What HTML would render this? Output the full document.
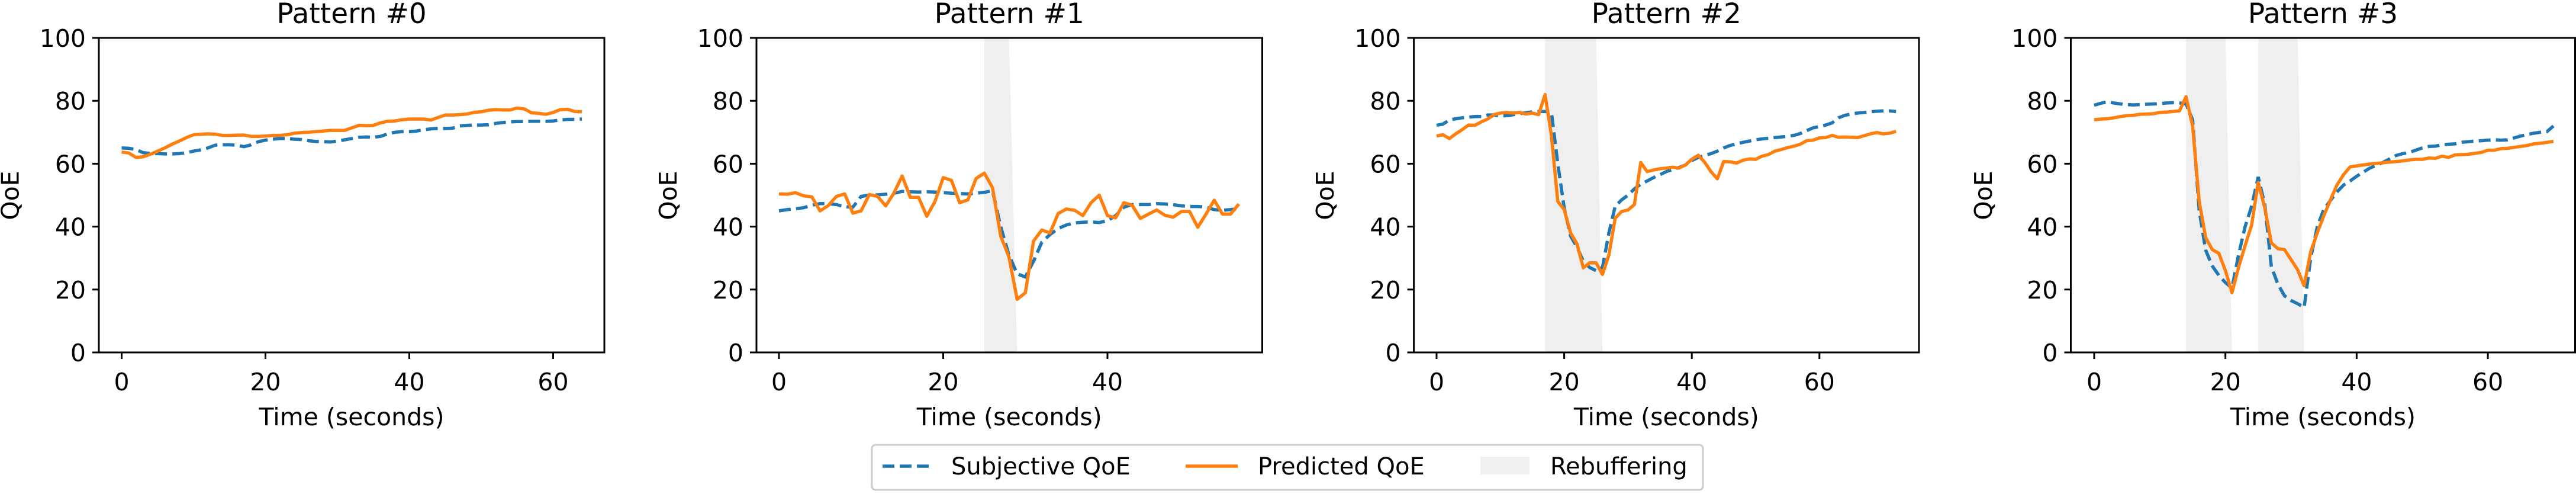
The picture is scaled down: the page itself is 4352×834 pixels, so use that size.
<!DOCTYPE html>
<html><head><meta charset="utf-8">
<style>
html,body{margin:0;padding:0;background:#fff;}
svg{display:block;font-family:"DejaVu Sans","Liberation Sans",sans-serif;}
</style></head>
<body>
<svg id="fig" width="4352" height="834" viewBox="0 0 4352 834" xmlns="http://www.w3.org/2000/svg">
<g>
  <rect x="1473" y="751" width="1404" height="76" rx="6" fill="#fff" stroke="#cccccc" stroke-width="3"/>
  <g>
    <line x1="1491" y1="787" x2="1575" y2="787" stroke="#1f77b4" stroke-width="5.5" stroke-dasharray="20,9"/>
    <text x="1607" y="801" font-size="40">Subjective QoE</text>
  </g>
  <g>
    <line x1="2003" y1="787" x2="2091" y2="787" stroke="#ff7f0e" stroke-width="5.5"/>
    <text x="2125" y="801" font-size="40">Predicted QoE</text>
  </g>
  <g>
    <rect x="2501" y="771" width="83" height="30" fill="#efefef"/>
    <text x="2619" y="801" font-size="40">Rebuffering</text>
  </g>
</g>
</svg>
<script>
const titles = ["Pattern #0","Pattern #1","Pattern #2","Pattern #3"];
const yTicks = [0,20,40,60,80,100];
const xTicks0 = [0,20,40,60];
const xTicks1 = [0,20,40];
const xTicks2 = [0,20,40,60];
const xTicks3 = [0,20,40,60];
const subj0 = [65,64.9,64.5,63.5,63.3,63.2,63.1,63.1,63.2,63.5,64,64.4,65,65.9,66,66,65.9,65.4,66,67,67.5,67.8,68,68,67.8,67.7,67.3,67.1,67,66.9,67.2,67.6,68,68.4,68.5,68.4,68.7,69.5,70,70.2,70.2,70.4,70.8,71.1,71.2,71.2,71.3,72,72.2,72.3,72.3,72.4,72.8,73.1,73.3,73.4,73.4,73.5,73.5,73.5,73.6,73.9,74.1,74.1,74.2];
const pred0 = [63.7,63.4,62,62.2,63,64,65,66.2,67.2,68.3,69.2,69.4,69.5,69.4,69,69,69.1,69.1,68.7,68.7,68.8,69,69,69.2,69.7,69.9,70,70.2,70.4,70.6,70.6,70.6,71.4,72.2,72.1,72.2,73,73.5,73.6,74,74.2,74.2,74.2,73.9,74.7,75.5,75.5,75.6,75.8,76.3,76.5,77,77.2,77.1,77.1,77.7,77.4,76.2,76,75.7,76.3,77.2,77.3,76.6,76.5];
const subj1 = [45,45.4,45.7,46,46.8,47.3,47.3,47,46.3,46.2,49.6,50,50.1,50.3,50.6,51.2,51.1,51,51.1,51,50.8,50.6,50.5,50.4,50.6,50.9,51.4,40,31,25,24,29,35,37.5,39.4,40.5,41.2,41.4,41.5,41.3,41.9,43.5,46.2,47,47,47,47.3,47.2,47,46.6,46.4,46.4,46.2,45.4,45.2,45.4,45.8];
const pred1 = [50.4,50.3,50.8,49.8,49.5,45,46.7,49.6,50.4,44.3,45,50.2,49.6,46.6,50.7,56.1,49.3,49.3,43.3,48,55.6,54.7,47.6,48.5,55.3,57,52.4,37,30.4,16.9,19,35.4,38.9,38,44.2,45.6,45.2,43.5,47.6,50,43.5,42.8,47.6,46.8,42.6,44,45.3,43.6,43,44.8,44.8,39.8,44,48.4,44,44,47.2];
const subj2 = [72.2,72.6,73.9,74.3,74.6,74.8,75,75,75.5,75.5,75.2,75.3,75.6,75.9,76.2,76.5,76.6,76.6,76.4,60,46,37,33.5,29,27,26,27,38,46.5,48.5,50,52,53.5,54.5,55.6,56.5,57.5,58.2,58.8,59.6,61,62,62.6,63.2,64,65,65.8,66.3,66.8,67.2,67.6,67.9,68.1,68.3,68.5,68.7,69,69.6,70.5,71.4,71.8,72.3,73,74.6,75.4,75.8,76.1,76.3,76.5,76.7,76.8,76.8,76.6];
const pred2 = [68.8,69.2,68,69.5,70.8,72.3,72.2,73.3,74.2,75.6,76.1,76.3,76.1,76.3,75.8,76.1,75.6,82,69,48,45.4,38,34.5,26.9,28.5,28.5,24.8,31,42.7,44.8,45.3,47,60.4,57.5,58,58.4,58.6,58.9,58.6,59.6,61.4,62.7,60.5,57.5,55.2,60.7,60.6,60.2,61.1,61.5,61.4,62.4,62.9,64,64.5,65.1,65.6,66.2,67.3,67.5,68.2,68.3,69,68.4,68.5,68.4,68.3,68.9,69.5,69.9,69.5,69.7,70.3];
const subj3 = [78.6,79.2,79.7,79.3,79,78.8,78.7,78.8,78.9,79,79.1,79.3,79.4,79.3,79,74,45,32.5,27.5,24.5,22.2,20.5,31,40,46.5,55.8,47,27.3,21.7,18,16.5,15.5,14.3,30,40,45.5,48.3,51,53.2,54.5,56,57.3,58.6,59.5,60.4,61.5,62.6,63.2,63.6,64.3,65,65.5,65.6,66,66.2,66.3,66.8,67,67.2,67.3,67.5,67.6,67.5,67.6,68.2,68.8,69.3,69.7,70,70.2,72];
const pred3 = [74,74.2,74.3,74.6,75,75.3,75.4,75.7,75.8,75.9,76.3,76.4,76.6,76.8,81.3,72,48,36.5,32.7,31.5,26,19,27,34,40.5,54,46,34.8,33,32.7,29.5,26.3,21.2,32,38,43.5,48.5,53.2,56.5,59,59.3,59.6,59.9,60.1,60.3,60.5,60.7,60.9,61.2,61.4,61.4,61.8,61.7,62.4,62,62.8,62.9,63,63.3,63.6,64.3,64.3,64.8,64.9,65.2,65.5,65.8,66.3,66.5,66.8,67.1];
const rebuf0 = [];
const rebuf1 = [[25,29]];
const rebuf2 = [[17,26]];
const rebuf3 = [[14,21],[25,32]];

const NS = "http://www.w3.org/2000/svg";
const svg = document.getElementById('fig');
const legendNode = svg.firstElementChild;
function mk(tag, attrs){const e=document.createElementNS(NS,tag);for(const k in attrs)e.setAttribute(k,attrs[k]);return e;}

const panels = [
  {left:167,right:1021,x0px:205.5,pxPerSec:12.15,ticks:xTicks0,subj:subj0,pred:pred0,rebuf:rebuf0,ylab:17.5},
  {left:1278,right:2132.5,x0px:1316,pxPerSec:13.875,ticks:xTicks1,subj:subj1,pred:pred1,rebuf:rebuf1,ylab:1129},
  {left:2388.6,right:3242,x0px:2427,pxPerSec:10.78,ticks:xTicks2,subj:subj2,pred:pred2,rebuf:rebuf2,ylab:2239},
  {left:3498.5,right:4350.5,x0px:3538,pxPerSec:11.085,ticks:xTicks3,subj:subj3,pred:pred3,rebuf:rebuf3,ylab:3351}
];
const TOP=64, BOT=595;
function yS(v){return BOT-(v/100)*(BOT-TOP);}

panels.forEach((p,i)=>{
  const xS = t => p.x0px + t*p.pxPerSec;
  const g = mk('g',{});
  
  
  svg.insertBefore(g, legendNode);
  p.rebuf.forEach((r,j)=>{
    const poly = mk('polygon',{points:`${xS(r[0])},${yS(0)} ${xS(r[0])},${yS(100)} ${xS(r[1]-1)},${yS(100)} ${xS(r[1])},${yS(0)}`,fill:'#efefef'});
    
    
    g.appendChild(poly);
  });
  const pathOf = arr => arr.map((v,t)=>(t?'L':'M')+xS(t).toFixed(1)+','+yS(v).toFixed(1)).join(' ');
  const sl = mk('path',{d:pathOf(p.subj),fill:'none',stroke:'#1f77b4','stroke-width':5.5,'stroke-dasharray':'20,9'});
  
  
  g.appendChild(sl);
  const pl = mk('path',{d:pathOf(p.pred),fill:'none',stroke:'#ff7f0e','stroke-width':5.5,'stroke-linejoin':'round'});
  
  
  g.appendChild(pl);
  const fr = mk('rect',{x:p.left,y:TOP,width:p.right-p.left,height:BOT-TOP,fill:'none',stroke:'#000','stroke-width':3});
  
  
  g.appendChild(fr);
  yTicks.forEach(v=>{
    const tl = mk('line',{x1:p.left-11,x2:p.left,y1:yS(v),y2:yS(v),stroke:'#000','stroke-width':3});
    
    
    g.appendChild(tl);
    const tx = mk('text',{x:p.left-22,y:yS(v)+15,'text-anchor':'end','font-size':41});
    
    
    tx.textContent=v; g.appendChild(tx);
  });
  p.ticks.forEach(v=>{
    const tl = mk('line',{x1:xS(v),x2:xS(v),y1:BOT,y2:BOT+11,stroke:'#000','stroke-width':3});
    
    
    g.appendChild(tl);
    const tx = mk('text',{x:xS(v),y:659,'text-anchor':'middle','font-size':41});
    
    
    tx.textContent=v; g.appendChild(tx);
  });
  const cx=(p.left+p.right)/2;
  const ti = mk('text',{x:cx,y:39,'text-anchor':'middle','font-size':47});
  
  
  ti.textContent=titles[i]; g.appendChild(ti);
  const xl = mk('text',{x:cx,y:718,'text-anchor':'middle','font-size':41});
  
  
  xl.textContent='Time (seconds)'; g.appendChild(xl);
  const yl = mk('text',{x:p.ylab+14,y:330,'text-anchor':'middle','font-size':41,transform:`rotate(-90 ${p.ylab+14} 330)`});
  
  
  yl.textContent='QoE'; g.appendChild(yl);
});
</script>
</body></html>
